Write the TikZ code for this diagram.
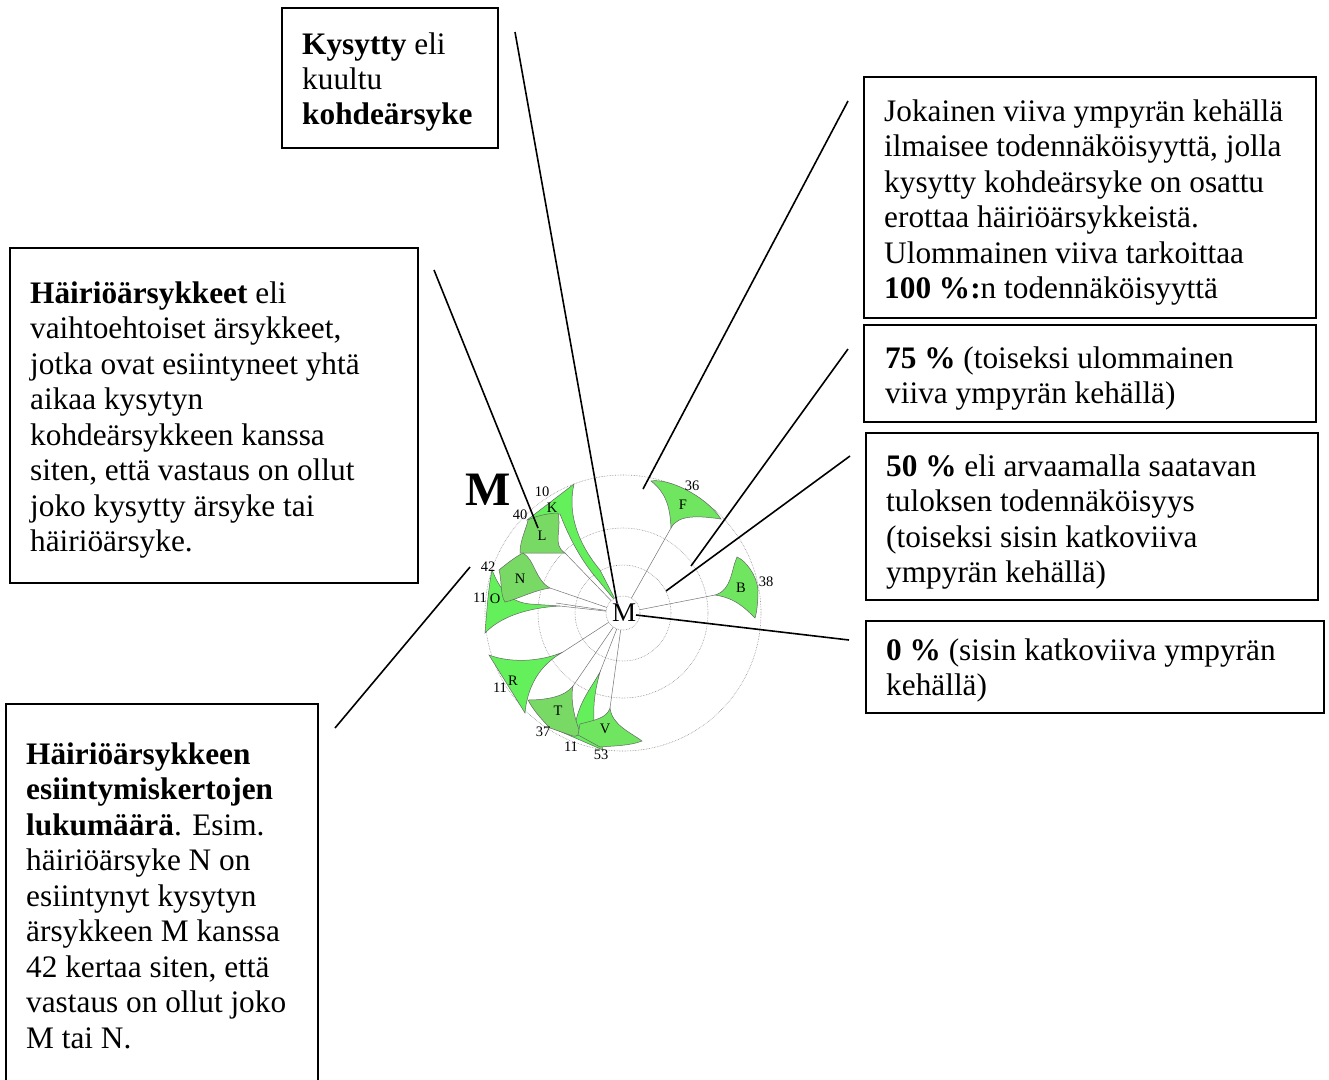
\documentclass[tikz,border=0pt]{standalone}
\usepackage{fontspec}
\setmainfont{Liberation Serif}
\definecolor{gBright}{RGB}{100,240,90}
\definecolor{gDark}{RGB}{120,218,100}
\definecolor{gMid}{RGB}{112,230,96}
\tikzset{
  boxframe/.style={draw=black, line width=1.3pt},
  txt/.style={anchor=north west, inner sep=0pt, align=left, font=\fontsize{31.3}{35.5}\selectfont},
  callout/.style={draw=black, line width=1.6pt},
  ring/.style={draw=black!45, densely dotted, line width=0.6pt},
  stem/.style={draw=black!55, line width=0.5pt},
  petal/.style={draw=black!60, line width=0.5pt},
  lab/.style={inner sep=0pt, font=\fontsize{14.5}{14.5}\selectfont},
  num/.style={inner sep=0pt, font=\fontsize{14.5}{14.5}\selectfont},
}
\begin{document}
\begin{tikzpicture}[x=1pt,y=-1pt]
\useasboundingbox (0,0) rectangle (1329,1079);
% ---------- boxes ----------
\draw[boxframe] (282,8) rectangle (498,148);
\node[txt, font=\fontsize{31.3}{35}\selectfont] (tK) at (302,30) {\strut\textbf{Kysytty} eli\\kuultu\\\textbf{kohdeärsyke}};
\draw[boxframe] (864,77) rectangle (1316,318);
\node[txt] (tJ) at (884,96) {\strut Jokainen viiva ympyrän kehällä\\ilmaisee todennäköisyyttä, jolla\\kysytty kohdeärsyke on osattu\\erottaa häiriöärsykkeistä.\\Ulommainen viiva tarkoittaa\\\textbf{100 \%:}n todennäköisyyttä};
\draw[boxframe] (864,325) rectangle (1316,422);
\node[txt] (t75) at (885,343) {\strut\textbf{75 \%} (toiseksi ulommainen\\viiva ympyrän kehällä)};
\draw[boxframe] (866,433) rectangle (1318,600);
\node[txt] (t50) at (886,451) {\strut\textbf{50 \%} eli arvaamalla saatavan\\tuloksen todennäköisyys\\(toiseksi sisin katkoviiva\\ympyrän kehällä)};
\draw[boxframe] (866,621) rectangle (1324,713);
\node[txt] (t0) at (886,635) {\strut\textbf{0 \%} (sisin katkoviiva ympyrän\\kehällä)};
\draw[boxframe] (10,248) rectangle (418,583);
\node[txt] (tH) at (30,278) {\strut\textbf{Häiriöärsykkeet} eli\\vaihtoehtoiset ärsykkeet,\\jotka ovat esiintyneet yhtä\\aikaa kysytyn\\kohdeärsykkeen kanssa\\siten, että vastaus on ollut\\joko kysytty ärsyke tai\\häiriöärsyke.};
\draw[boxframe] (6,1090) -- (6,704) -- (318,704) -- (318,1090);
\node[txt] (tE) at (26,739) {\strut\textbf{Häiriöärsykkeen}\\\textbf{esiintymiskertojen}\\\textbf{lukumäärä}. Esim.\\häiriöärsyke N on\\esiintynyt kysytyn\\ärsykkeen M kanssa\\42 kertaa siten, että\\vastaus on ollut joko\\M tai N.};
% ---------- rings ----------
\coordinate (C) at (623,613);
\draw[ring] (C) circle (48pt);
\draw[ring] (C) circle (85pt);
\draw[ring] (C) circle (138pt);
% ---------- stems ----------
\foreach \p in {(671,528),(715,595),(565,553),(550,588),(560,606),(556,603),(563,652),(573,686),(600,672),(610,708)}
  \draw[stem] (C) -- \p;
% ---------- petals ----------
% F
\draw[petal, fill=gMid] (671,528) .. controls (670,505) and (665,492) .. (651,481)
  .. controls (668,478) and (705,495) .. (721,519)
  .. controls (700,516) and (678,514) .. (671,528) -- cycle;
% B
\draw[petal, fill=gMid] (715,595) .. controls (732,590) and (731,570) .. (737,557)
  .. controls (745,560) and (757,575) .. (758,590)
  .. controls (758,600) and (757,612) .. (755,618)
  .. controls (745,608) and (735,598) .. (715,595) -- cycle;
% K
\draw[petal, fill=gBright] (527,520) -- (574,484)
  .. controls (568,510) and (575,540) .. (600,570) -- (617,603) -- (598,580)
  .. controls (585,565) and (572,545) .. (560,514) -- cycle;
% L
\draw[petal, fill=gDark] (528,520) .. controls (535,516) and (550,513) .. (558,513)
  .. controls (562,530) and (552,545) .. (565,553) -- (520,553)
  .. controls (520,540) and (526,530) .. (528,520) -- cycle;
% O
\draw[petal, fill=gBright] (492,570) .. controls (500,590) and (510,602) .. (530,604) -- (560,606)
  .. controls (540,607) and (505,612) .. (485,633)
  .. controls (487,610) and (488,590) .. (492,570) -- cycle;
% N
\draw[petal, fill=gDark] (523,553) .. controls (535,560) and (535,580) .. (550,588)
  .. controls (535,590) and (515,600) .. (505,602)
  .. controls (500,595) and (502,580) .. (499,570)
  .. controls (505,565) and (515,557) .. (523,553) -- cycle;
% R
\draw[petal, fill=gBright] (489,655) .. controls (510,663) and (540,662) .. (563,652)
  .. controls (545,662) and (528,680) .. (525,713) -- cycle;
% sliver
\draw[petal, fill=gBright] (600,672) .. controls (595,690) and (593,705) .. (594,720)
  -- (603,750) -- (550,727) -- (575,725)
  .. controls (580,700) and (590,690) .. (600,672) -- cycle;
% T
\draw[petal, fill=gDark] (528,700) .. controls (545,700) and (565,697) .. (573,686)
  .. controls (570,700) and (575,720) .. (580,732)
  .. controls (578,737) and (574,737) .. (570,735) -- (550,728)
  .. controls (540,718) and (532,708) .. (528,700) -- cycle;
% V
\draw[petal, fill=gMid] (580,724) .. controls (595,720) and (607,718) .. (610,708)
  .. controls (612,725) and (630,732) .. (642,741)
  .. controls (630,746) and (610,746) .. (600,747) -- (578,735) -- cycle;
% ---------- centre ----------
\fill[white] (C) circle (17pt);
\draw[ring] (C) circle (17pt);
\node[inner sep=0pt, font=\fontsize{27}{27}\selectfont] (M) at (624,613) {M};
\node[inner sep=0pt, font=\fontsize{48}{48}\selectfont\bfseries] (bigM) at (488,490) {M};
% ---------- labels ----------
\node[lab] (lF) at (683,505) {F};
\node[num] (nF) at (692,486) {36};
\node[lab] (lB) at (741,588) {B};
\node[num] (nB) at (766,582) {38};
\node[lab] (lK) at (552,508) {K};
\node[num] (nK) at (542,492) {10};
\node[lab] (lL) at (542,536) {L};
\node[num] (nL) at (520,515) {40};
\node[lab] (lN) at (520,579) {N};
\node[num] (nN) at (488,567) {42};
\node[lab] (lO) at (495,599) {O};
\node[num] (nO) at (480,598) {11};
\node[lab] (lR) at (513,681) {R};
\node[num] (nR) at (500,688) {11};
\node[lab] (lT) at (558,711) {T};
\node[num] (nT) at (543,732) {37};
\node[num] (nS) at (571,747) {11};
\node[lab] (lV) at (605,729) {V};
\node[num] (nV) at (601,755) {53};
% ---------- callouts ----------
\coordinate (a1) at (515,32);   \coordinate (a2) at (617,603);
\coordinate (b1) at (848,101);  \coordinate (b2) at (643,489);
\coordinate (c1) at (848,349);  \coordinate (c2) at (691,566);
\coordinate (d1) at (850,456);  \coordinate (d2) at (666,591);
\coordinate (e1) at (849,640);  \coordinate (e2) at (636,615);
\coordinate (f1) at (434,270);  \coordinate (f2) at (538,528);
\coordinate (g1) at (470,567);  \coordinate (g2) at (335,728);
\draw[callout] (a1) -- (a2);
\draw[callout] (b1) -- (b2);
\draw[callout] (c1) -- (c2);
\draw[callout] (d1) -- (d2);
\draw[callout] (e2) -- (e1);
\draw[callout] (f1) -- (f2);
\draw[callout] (g1) -- (g2);
\end{tikzpicture}
\end{document}
